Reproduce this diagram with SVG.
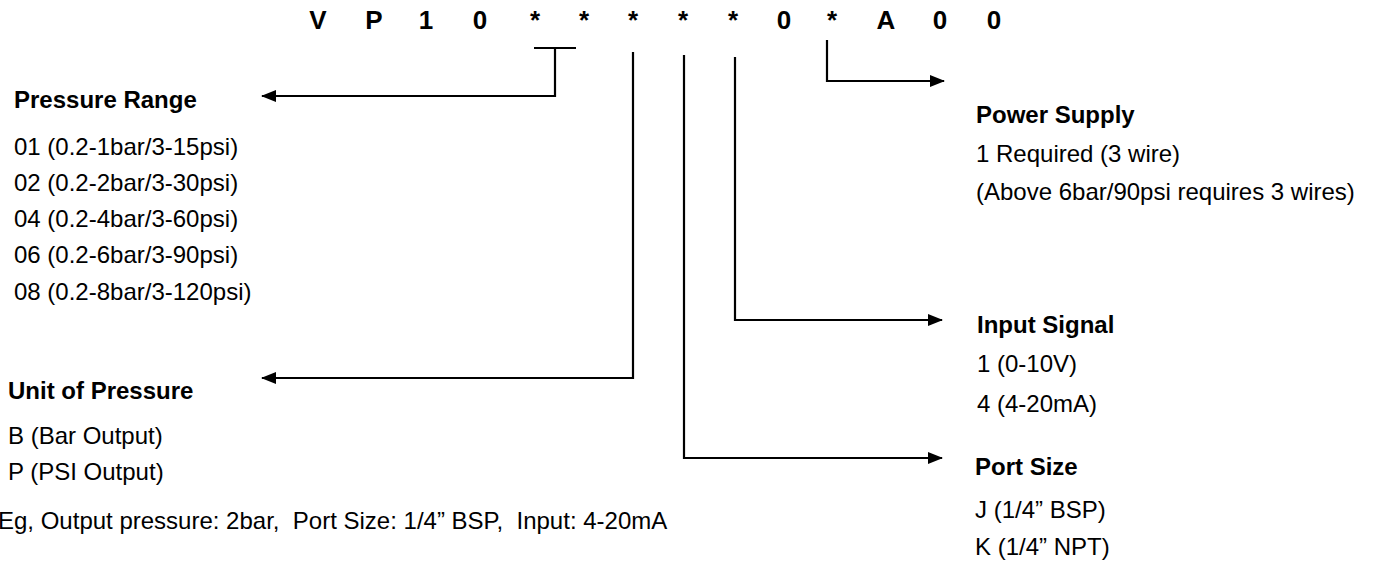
<svg xmlns="http://www.w3.org/2000/svg" width="1375" height="567" viewBox="0 0 1375 567">
<style>
text{font-family:"Liberation Sans",Arial,sans-serif;fill:#000}
.t{font-size:26px;font-weight:bold;text-anchor:middle}
.h{font-size:24px;font-weight:bold}
.r{font-size:24px}
.c{fill:none;stroke:#000;stroke-width:2.2}
</style>
<defs>
<marker id="ah" viewBox="0 0 15 12" refX="14" refY="6" markerWidth="15" markerHeight="12" markerUnits="userSpaceOnUse" orient="auto">
<path d="M0,0 L15,6 L0,12 Z" fill="#000"/>
</marker>
</defs>
<g id="code">
<text class="t" x="318" y="29">V</text>
<text class="t" x="374" y="29">P</text>
<text class="t" x="426" y="29">1</text>
<text class="t" x="480" y="29">0</text>
<text class="t" x="535" y="29">*</text>
<text class="t" x="584" y="29">*</text>
<text class="t" x="633" y="29">*</text>
<text class="t" x="683" y="29">*</text>
<text class="t" x="733" y="29">*</text>
<text class="t" x="784" y="29">0</text>
<text class="t" x="832" y="29">*</text>
<text class="t" x="886" y="29">A</text>
<text class="t" x="940" y="29">0</text>
<text class="t" x="994" y="29">0</text>
</g>
<g id="connectors">
<line class="c" x1="534" y1="48" x2="576" y2="48"/>
<path class="c" d="M555,48 V96 H262" marker-end="url(#ah)"/>
<path class="c" d="M633,52 V378 H262" marker-end="url(#ah)"/>
<path class="c" d="M684,55 V458 H942" marker-end="url(#ah)"/>
<path class="c" d="M735,57 V320 H942" marker-end="url(#ah)"/>
<path class="c" d="M827,40 V81 H944" marker-end="url(#ah)"/>
</g>
<g id="pressure-range">
<text class="h" x="14" y="108">Pressure Range</text>
<text class="r" x="14" y="155">01 (0.2-1bar/3-15psi)</text>
<text class="r" x="14" y="191">02 (0.2-2bar/3-30psi)</text>
<text class="r" x="14" y="227">04 (0.2-4bar/3-60psi)</text>
<text class="r" x="14" y="263">06 (0.2-6bar/3-90psi)</text>
<text class="r" x="14" y="300">08 (0.2-8bar/3-120psi)</text>
</g>
<g id="unit-of-pressure">
<text class="h" x="8" y="399">Unit of Pressure</text>
<text class="r" x="8" y="444">B (Bar Output)</text>
<text class="r" x="8" y="480">P (PSI Output)</text>
</g>
<g id="example">
<text class="r" x="-2" y="529" xml:space="preserve">Eg, Output pressure: 2bar,  Port Size: 1/4” BSP,  Input: 4-20mA</text>
</g>
<g id="power-supply">
<text class="h" x="976" y="123">Power Supply</text>
<text class="r" x="976" y="162">1 Required (3 wire)</text>
<text class="r" x="976" y="200">(Above 6bar/90psi requires 3 wires)</text>
</g>
<g id="input-signal">
<text class="h" x="977" y="333">Input Signal</text>
<text class="r" x="977" y="372">1 (0-10V)</text>
<text class="r" x="977" y="412">4 (4-20mA)</text>
</g>
<g id="port-size">
<text class="h" x="975" y="475">Port Size</text>
<text class="r" x="975" y="518">J (1/4” BSP)</text>
<text class="r" x="975" y="555">K (1/4” NPT)</text>
</g>
</svg>
